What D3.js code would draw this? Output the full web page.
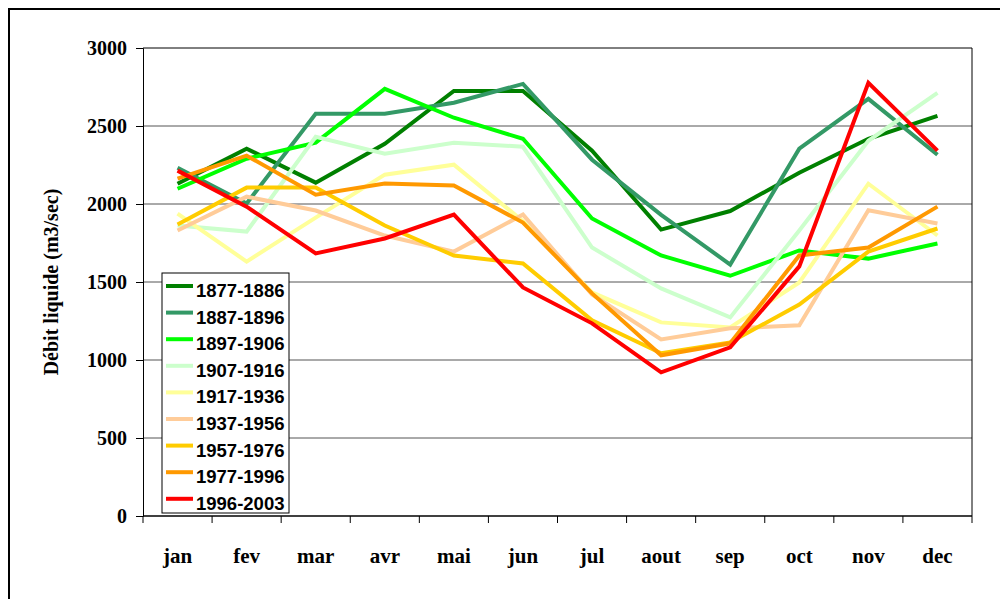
<!DOCTYPE html>
<html>
<head>
<meta charset="utf-8">
<script src="https://cdn.jsdelivr.net/npm/d3@7"></script>
<style>
  body { margin: 0; background: #fff; }
  .tick text, .mois { font-family: "Liberation Serif", "Times New Roman", serif; font-weight: bold; }
</style>
</head>
<body>
<script>
var months = ["jan","fev","mar","avr","mai","jun","jul","aout","sep","oct","nov","dec"];
var periods = ["1877-1886","1887-1896","1897-1906","1907-1916","1917-1936","1937-1956","1957-1976","1977-1996","1996-2003"];
var colors = ["#008000","#339966","#00ff00","#ccffcc","#ffff99","#ffcc99","#ffcc00","#ff9900","#ff0000"];

var s1877 = [2130,2355,2137,2386,2725,2725,2342,1836,1955,2200,2418,2565];
var s1887 = [2233,2003,2578,2578,2649,2770,2284,1930,1612,2355,2674,2316];
var s1897 = [2098,2290,2393,2738,2553,2418,1907,1670,1540,1702,1650,1747];
var s1907 = [1862,1823,2431,2322,2393,2367,1721,1459,1273,1830,2405,2713];
var s1917 = [1938,1631,1913,2188,2252,1890,1433,1241,1209,1497,2130,1798];
var s1937 = [1830,2047,1958,1798,1695,1932,1420,1132,1203,1222,1960,1875];
var s1957 = [1868,2105,2105,1862,1670,1619,1254,1043,1113,1356,1695,1843];
var s1977 = [2162,2310,2060,2131,2118,1881,1427,1030,1107,1670,1721,1983];
var s1996 = [2214,1983,1683,1779,1932,1465,1235,921,1081,1600,2777,2342];
var series = [s1877,s1887,s1897,s1907,s1917,s1937,s1957,s1977,s1996];

var yTicks = [0,500,1000,1500,2000,2500,3000];

var width = 1000, height = 599;
var margin = {top: 48, right: 28, bottom: 83, left: 143};

var svg = d3.select("body").append("svg")
    .attr("width", width)
    .attr("height", height);

// outer frame
svg.append("rect")
  .attr("x", 9).attr("y", 9)
  .attr("width", 1000).attr("height", 620)
  .attr("fill", "none").attr("stroke", "#000").attr("stroke-width", 2);

var x = d3.scaleBand().domain(months).range([margin.left, width - margin.right]);
var y = d3.scaleLinear().domain([0, 3000]).range([height - margin.bottom, margin.top]);

// gridlines
svg.append("g").selectAll("line")
  .data(yTicks.filter(d => d > 0))
  .enter().append("line")
  .attr("x1", margin.left).attr("x2", width - margin.right)
  .attr("y1", d => y(d)).attr("y2", d => y(d))
  .attr("stroke", d => d == 3000 ? "#000" : "#555")
  .attr("stroke-width", 1);

// right border of plot
svg.append("line")
  .attr("x1", width - margin.right).attr("x2", width - margin.right)
  .attr("y1", y(3000)).attr("y2", y(0))
  .attr("stroke", "#000");

// y axis
var yAxis = svg.append("g")
  .attr("transform", `translate(${margin.left},0)`)
  .call(d3.axisLeft(y).tickValues(yTicks).tickSize(7).tickPadding(9).tickFormat(d3.format("d")));
yAxis.selectAll("text")
  .attr("font-family", "Liberation Serif, serif")
  .style("font-size", "20px").attr("fill", "#000");
yAxis.selectAll("line, path").attr("stroke", "#000");

// x axis, ticks between categories
var xAxis = svg.append("g")
  .attr("transform", `translate(0,${y(0)})`);
xAxis.append("line")
  .attr("x1", margin.left).attr("x2", width - margin.right)
  .attr("stroke", "#000").attr("stroke-width", 1.5);
xAxis.selectAll(".tk")
  .data(months.concat(["end"]))
  .enter().append("line")
  .attr("class", "tk")
  .attr("x1", (d, i) => margin.left + i * x.bandwidth())
  .attr("x2", (d, i) => margin.left + i * x.bandwidth())
  .attr("y1", 0).attr("y2", 7)
  .attr("stroke", "#000");
xAxis.selectAll(".mois")
  .data(months)
  .enter().append("text")
  .attr("class", "mois")
  .attr("x", d => x(d) + x.bandwidth() / 2)
  .attr("y", 47)
  .attr("text-anchor", "middle")
  .style("font-size", "21px")
  .text(d => d);

// y label
svg.append("text")
  .attr("transform", "translate(58,282) rotate(-90)")
  .attr("text-anchor", "middle")
  .style("font-family", "'Liberation Serif', 'Times New Roman', serif")
  .style("font-weight", "bold")
  .style("font-size", "20px")
  .text("Débit liquide (m3/sec)");

// lines
var line = d3.line()
  .x((d, i) => x(months[i]) + x.bandwidth() / 2)
  .y(d => y(d));

svg.append("g").selectAll("path")
  .data(series)
  .enter().append("path")
  .attr("d", line)
  .attr("fill", "none")
  .attr("stroke", (d, i) => colors[i])
  .attr("stroke-width", 4)
  .attr("stroke-linejoin", "miter");

// legend
var legend = svg.append("g").attr("transform", "translate(162,273)");
legend.append("rect")
  .attr("width", 127).attr("height", 240)
  .attr("fill", "#fff").attr("stroke", "#000").attr("stroke-width", 1);
var item = legend.selectAll(".item")
  .data(periods)
  .enter().append("g")
  .attr("transform", (d, i) => `translate(0,${13 + i * 26.6})`);
item.append("line")
  .attr("x1", 4).attr("x2", 31)
  .attr("stroke", (d, i) => colors[i])
  .attr("stroke-width", 4);
item.append("text")
  .attr("x", 34).attr("y", 11)
  .style("font-family", "'Liberation Sans', Arial, sans-serif")
  .style("font-weight", "bold")
  .style("font-size", "18.5px")
  .text(d => d);
</script>
</body>
</html>
